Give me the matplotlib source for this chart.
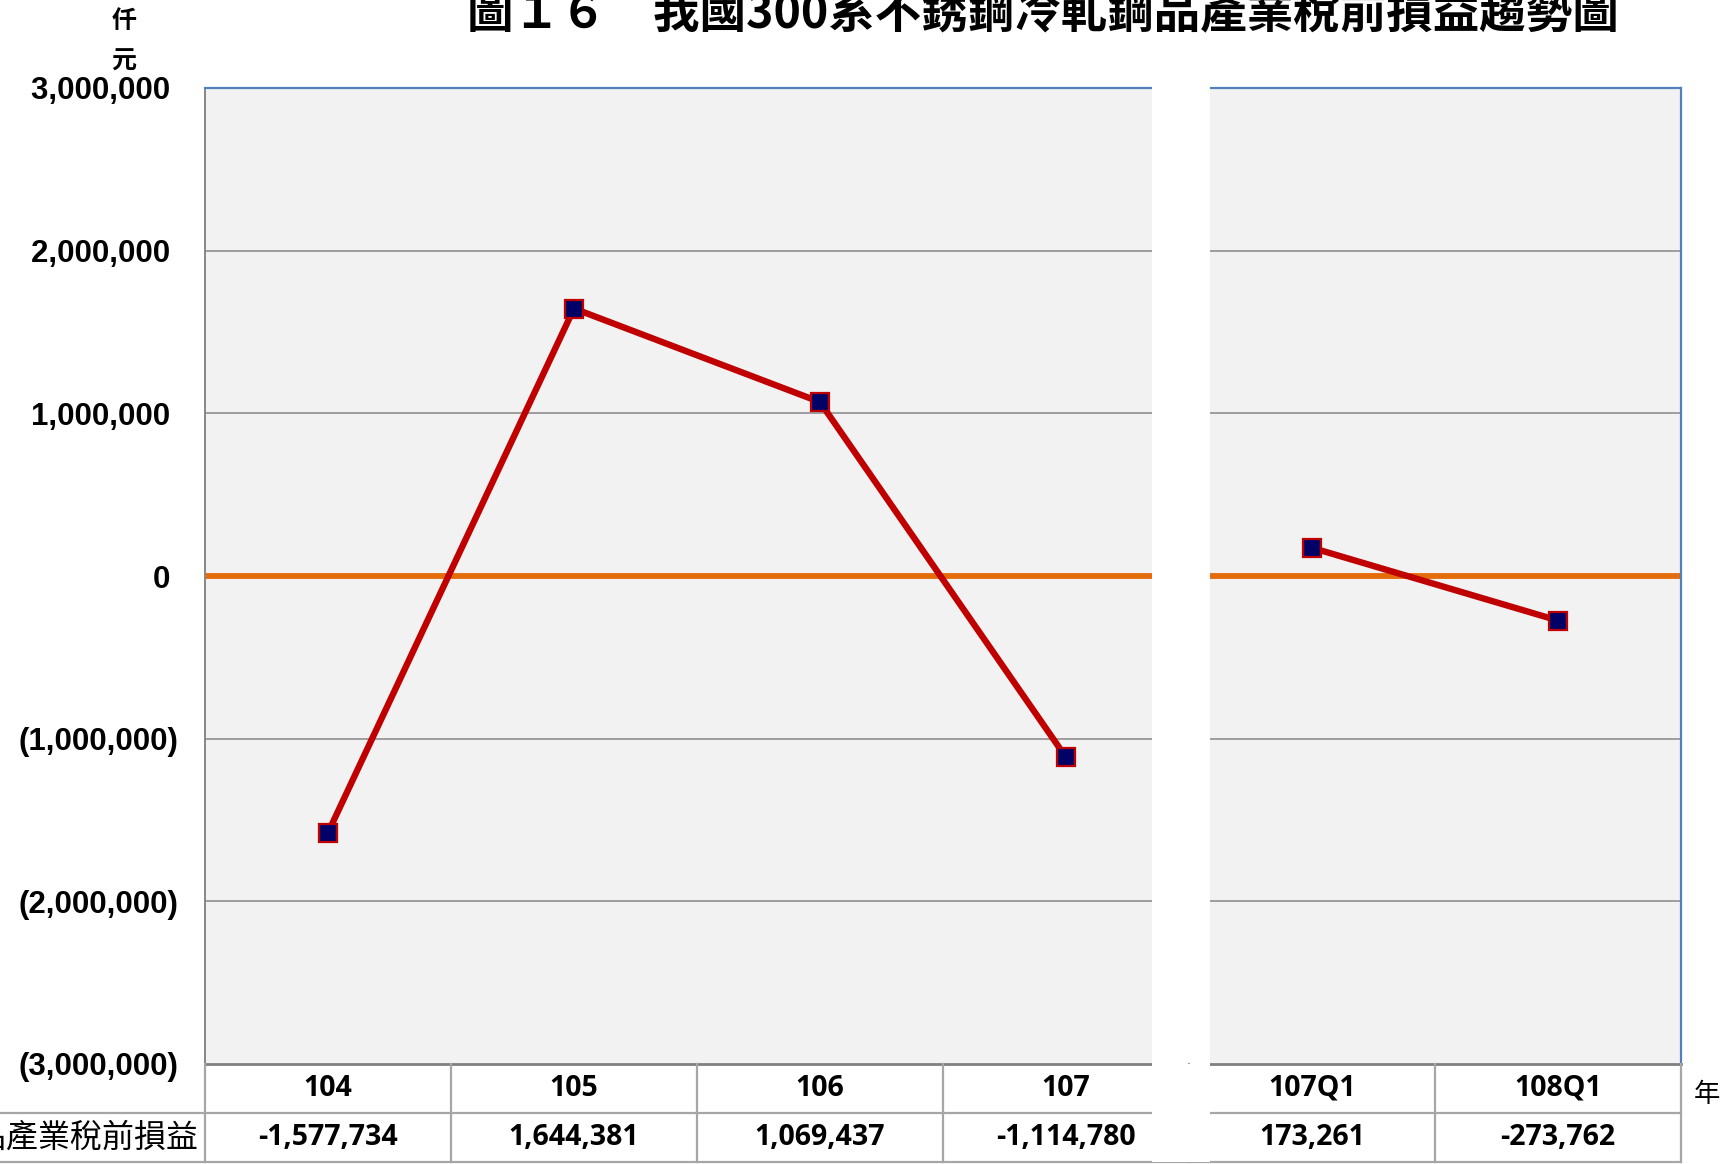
import matplotlib
matplotlib.use("Agg")
import matplotlib.pyplot as plt
from matplotlib.ticker import FixedLocator, FuncFormatter

# data
periods = ["104", "105", "106", "107", "107Q1", "108Q1"]
profit = [-1577734, 1644381, 1069437, -1114780, 173261, -273762]
n_annual = 4  # first four are annual, last two are Q1 figures

title = "圖１６　我國300系不銹鋼冷軋鋼品產業稅前損益趨勢圖"
row_label = "冷軋鋼品產業稅前損益"

W, H = 1723, 1164
CJK = ["Noto Sans CJK TC", "DejaVu Sans"]
NUM = ["Liberation Sans", "DejaVu Sans"]
TAB = ["Open Sans", "DejaVu Sans"]

RED = "#C00000"
NAVY = "#000066"
ORANGE = "#E46C0A"
BLUE = "#4F81BD"
GRID = "#868686"
CELL = "#A6A6A6"

fig = plt.figure(figsize=(W / 100, H / 100), dpi=100)

# pixel layout
px_left, px_right, px_top, px_bot = 205, 1681, 88, 1064
tab_bot = 1162
ax = fig.add_axes([px_left / W, 1 - px_bot / H, (px_right - px_left) / W, (px_bot - px_top) / H])
ax.set_facecolor("#F2F2F2")

x = list(range(len(periods)))
ax.set_xlim(-0.5, len(periods) - 0.5)
ax.set_ylim(-3000000, 3000000)
ax.yaxis.set_major_locator(FixedLocator(range(-3000000, 3000001, 1000000)))


def fmt(v, pos):
    if v < 0:
        return f"({-int(v):,})"
    return f"{int(v):,} "


ax.yaxis.set_major_formatter(FuncFormatter(fmt))
ax.tick_params(axis="y", length=0, pad=19)
ax.set_xticks([])
for lbl in ax.get_yticklabels():
    lbl.set_fontfamily(NUM)
    lbl.set_fontweight("bold")
    lbl.set_fontsize(22.5)

for yv in range(-2000000, 3000001, 1000000):
    if yv != 0:
        ax.axhline(yv, color=GRID, lw=1.1, zorder=1)
ax.axhline(0, color=ORANGE, lw=4.2, zorder=2)

for seg in (slice(0, n_annual), slice(n_annual, None)):
    ax.plot(x[seg], profit[seg], color=RED, lw=4.6, zorder=4,
            marker="s", ms=12.5, mfc=NAVY, mec=RED, mew=1.6)

ax.spines["top"].set_color(BLUE)
ax.spines["top"].set_linewidth(1.6)
ax.spines["right"].set_color(BLUE)
ax.spines["right"].set_linewidth(1.6)
ax.spines["left"].set_color(GRID)
ax.spines["left"].set_linewidth(1.4)
ax.spines["bottom"].set_color("#7F7F7F")
ax.spines["bottom"].set_linewidth(2)

# data table under the plot
units = (px_right - px_left) / len(periods)
tab = fig.add_axes([0, 1 - tab_bot / H, px_right / W, (tab_bot - px_bot) / H])
tab.set_xlim(-0.5 - px_left / units, len(periods) - 0.5)
tab.set_ylim(0, 2)
tab.axis("off")
for b in [i - 0.5 for i in range(len(periods) + 1)]:
    tab.plot([b, b], [0, 2], color=CELL, lw=1.6, clip_on=False)
for yv in (0, 1):
    tab.plot([tab.get_xlim()[0], len(periods) - 0.5], [yv, yv], color=CELL, lw=1.6, clip_on=False)
for xi, p, v in zip(x, periods, profit):
    tab.text(xi, 1.5, p, ha="center", va="center", fontsize=20.5, fontweight="bold", family=TAB)
    tab.text(xi, 0.5, f"{v:,}", ha="center", va="center", fontsize=20.5, fontweight="bold", family=TAB)
tab.text(-0.5 - 7 / units, 0.5, row_label, ha="right", va="center", fontsize=23, family=CJK)

# white gap between the annual and quarterly blocks
g0 = (1152 - px_left) / units - 0.5
g1 = (1210 - px_left) / units - 0.5
ax.axvspan(g0, g1, ymin=-0.01, ymax=1.02, color="white", zorder=10, clip_on=False, lw=0)
tab.axvspan(g0, g1, color="white", zorder=10, clip_on=False, lw=0)

fig.text(1043 / W, 1 - 13 / H, title, ha="center", va="center", fontsize=33.5,
         fontweight="bold", family=CJK)
fig.text(124 / W, 1 - 21 / H, "仟", ha="center", va="center", fontsize=18, fontweight="bold", family=CJK)
fig.text(124 / W, 1 - 62 / H, "元", ha="center", va="center", fontsize=18, fontweight="bold", family=CJK)
fig.text(1694 / W, 1 - 1094 / H, "年", ha="left", va="center", fontsize=19, family=CJK)

fig.savefig("out.png", dpi=100)
